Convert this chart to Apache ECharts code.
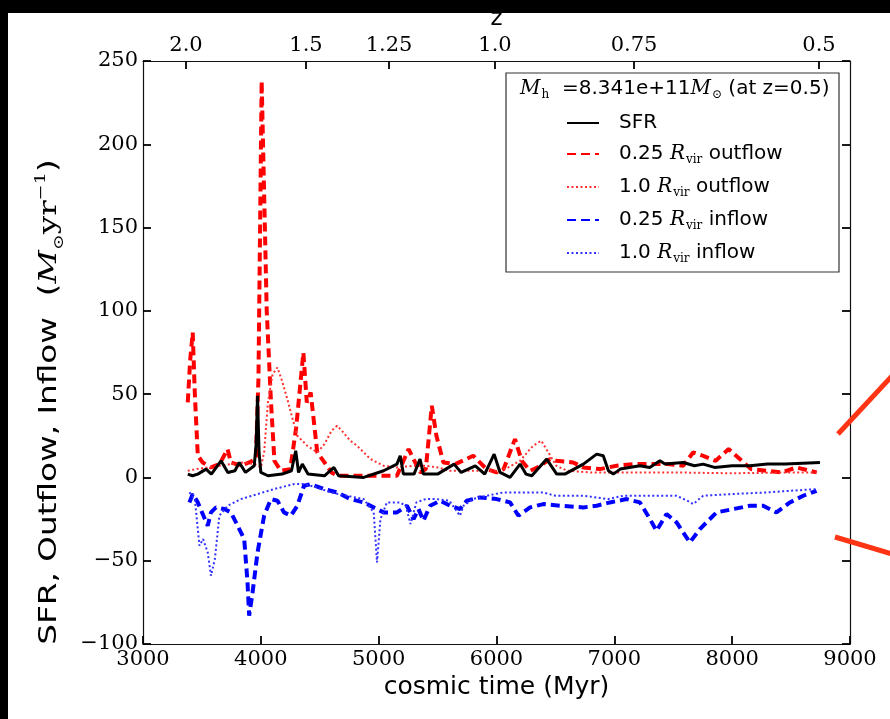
<!DOCTYPE html>
<html>
<head>
<meta charset="utf-8">
<script src="https://cdn.jsdelivr.net/npm/echarts@6/dist/echarts.min.js"></script>
<style>
html,body{margin:0;padding:0;background:#000;}
#chart{width:890px;height:719px;}
</style>
</head>
<body>
<div id="chart"></div>
<script>
// ---- data (cosmic time in Myr, rates in Msun/yr) ----
const sfrT = [3380,3420,3465,3535,3580,3662,3720,3780,3817,3870,3944,3960,3972,3985,4000,4060,4180,4260,4296,4320,4352,4400,4540,4620,4660,4873,5042,5155,5183,5210,5300,5351,5380,5500,5640,5700,5820,5900,5980,6030,6115,6200,6250,6300,6426,6511,6580,6737,6850,6906,6950,6991,7050,7217,7300,7387,7430,7584,7680,7754,7850,8000,8150,8300,8450,8600,8745];
const sfrV = [2,1,2,5,2,10,3,4,9,3,7,20,49,15,3,1,2,4,16,3,8,2,1,6,1,0,4,8,13,2,2,11,2,2,8,3,7,2,14,3,0,8,2,1,11,2,2,8,14,13,4,2,5,7,6,10,8,9,7,8,6,7,7,8,8,8.5,9];

const out25T = [3380,3400,3422,3440,3465,3507,3577,3650,3718,3746,3831,3900,3958,3980,4007,4050,4085,4115,4169,4250,4300,4361,4390,4423,4479,4520,4600,4648,4800,5000,5155,5254,5352,5400,5451,5490,5549,5650,5803,5916,6001,6060,6157,6214,6285,6350,6454,6508,6650,6737,6878,7019,7160,7302,7450,7584,7669,7754,7860,7970,8065,8160,8291,8418,8546,8717];
const out25V = [45,70,87,50,13,9,6,8,17,9,7,9,11,60,238,100,47,10,4,5,30,75,45,51,15,11,3,1,1,1,1,17,3,5,43,25,9,8,13,5,3,5,23,10,4,6,11,10,9,6,5,7,8,8,8,7,15,13,10,17,11,5,4,3,6,3];

const out100T = [3380,3450,3550,3650,3750,3850,3950,4000,4028,4060,4100,4141,4180,4225,4270,4310,4394,4479,4540,4600,4648,4700,4760,4817,4930,5042,5150,5296,5400,5500,5605,5800,6000,6100,6200,6310,6380,6440,6508,6600,6800,7000,7500,8000,8500,8717];
const out100V = [4,5,6,7,8,9,8,6,15,45,62,66,58,47,35,25,19,15,20,28,31,27,22,19,11,7,6,7,7,6,4,4,4,6,10,19,22,15,7,4,3,3,3,2.5,3,3];

const in25T = [3394,3422,3465,3549,3577,3620,3690,3746,3803,3859,3887,3901,3930,3972,4028,4085,4141,4197,4254,4310,4366,4423,4535,4648,4760,4873,5042,5155,5240,5296,5338,5380,5436,5521,5606,5690,5747,5859,6001,6115,6186,6285,6398,6540,6737,6850,6963,7104,7217,7302,7358,7443,7528,7641,7726,7867,8009,8150,8263,8376,8490,8603,8716];
const in25V = [-15,-10,-15,-29,-21,-18,-19,-21,-29,-37,-63,-83,-69,-45,-23,-13,-14,-21,-23,-17,-5,-4,-7,-9,-13,-15,-21,-21,-17,-25,-19,-26,-17,-14,-17,-19,-14,-12,-13,-15,-23,-18,-16,-17,-18,-17,-15,-13,-15,-25,-32,-22,-27,-39,-31,-21,-19,-17,-17,-21,-15,-11,-8];

const in100T = [3394,3440,3479,3510,3549,3577,3610,3648,3718,3831,3972,4113,4282,4366,4479,4592,4732,4873,4958,4986,5015,5070,5180,5230,5270,5320,5400,5493,5600,5690,5720,5800,5916,6058,6200,6398,6500,6737,6950,7076,7300,7528,7620,7670,7720,7754,8000,8291,8500,8716];
const in100V = [-9,-13,-41,-37,-45,-59,-49,-23,-17,-13,-10,-7,-4,-4,-6,-9,-11,-13,-21,-51,-25,-15,-15,-17,-28,-15,-13,-13,-14,-23,-17,-13,-11,-9,-9,-9,-11,-11,-13,-11,-11,-11,-14,-16,-13,-11,-10,-9,-8,-7];

// top axis: redshift ticks placed at the corresponding cosmic time
const zTickTimes = [3365,4383,5088,5987,7167,8737];
const zTickLabels = ['2.0','1.5','1.25','1.0','0.75','0.5'];

const xTicks = {min:3000, max:9000, interval:1000};
const yTicks = {min:-100, max:250, interval:50};

function zip(t, v){ return t.map((x,i)=>[x, v[i]]); }

const chart = echarts.init(document.getElementById('chart'), null, {renderer:'canvas'});
const serif = "'DejaVu Serif', serif";
const sans = "'DejaVu Sans', sans-serif";
const axisLineStyle = {color:'#111', width:1.2};
const tickStyle = {color:'#000', width:1.8};

const richBase = {
  g:{width:15, fontSize:20, lineHeight:24},
  i:{fontFamily:serif, fontStyle:'italic', fontSize:20, color:'#000', lineHeight:24},
  s:{fontFamily:serif, fontSize:12, color:'#000', lineHeight:24, verticalAlign:'bottom', padding:[8,0,0,1]},
  n:{fontFamily:sans, fontSize:20, color:'#000', lineHeight:24}
};
const legendNames = {
  'SFR':'{g| }{n|SFR}',
  'out25':'{g| }{n|0.25 }{i|R}{s|vir}{n| outflow}',
  'out100':'{g| }{n|1.0 }{i|R}{s|vir}{n| outflow}',
  'in25':'{g| }{n|0.25 }{i|R}{s|vir}{n| inflow}',
  'in100':'{g| }{n|1.0 }{i|R}{s|vir}{n| inflow}'
};

function lineSeries(name, t, v, color, type, width){
  return {
    name, type:'line', data: zip(t, v), showSymbol:false, symbol:'none',
    xAxisIndex:0, yAxisIndex:0, smooth:false, animation:false,
    lineStyle:{color, type, width}, itemStyle:{color}
  };
}

const option = {
  backgroundColor:'transparent',
  animation:false,
  grid:{left:143, right:40, top:61, bottom:75, containLabel:false},
  xAxis:[
    {type:'value', min:xTicks.min, max:xTicks.max, interval:xTicks.interval, position:'bottom',
     axisLine:{show:true, onZero:false, lineStyle:axisLineStyle},
     axisTick:{show:true, inside:true, length:8, lineStyle:tickStyle},
     splitLine:{show:false},
     axisLabel:{fontFamily:serif, fontSize:21, color:'#000', margin:5, formatter:(v)=>String(v)},
     name:'cosmic time (Myr)', nameLocation:'middle', nameGap:31,
     nameTextStyle:{fontFamily:sans, fontSize:25, color:'#000'}},
    {type:'value', min:xTicks.min, max:xTicks.max, position:'top',
     axisLine:{show:true, onZero:false, lineStyle:axisLineStyle},
     axisTick:{show:true, inside:true, length:8, lineStyle:tickStyle, customValues:zTickTimes},
     splitLine:{show:false},
     axisLabel:{fontFamily:serif, fontSize:21, color:'#000', margin:5, customValues:zTickTimes,
       formatter:(v)=>{ const i = zTickTimes.indexOf(v); return i>=0 ? zTickLabels[i] : ''; }},
     name:'z', nameLocation:'middle', nameGap:28,
     nameTextStyle:{fontFamily:sans, fontSize:23, color:'#000'}}
  ],
  yAxis:[
    {type:'value', min:yTicks.min, max:yTicks.max, interval:yTicks.interval, position:'left',
     axisLine:{show:true, onZero:false, lineStyle:axisLineStyle},
     axisTick:{show:true, inside:true, length:8, lineStyle:tickStyle},
     splitLine:{show:false},
     axisLabel:{fontFamily:serif, fontSize:21, color:'#000', margin:5,
       formatter:(v)=> v<0 ? '\u2212'+Math.abs(v) : String(v)}},
    {type:'value', min:yTicks.min, max:yTicks.max, interval:yTicks.interval, position:'right',
     axisLine:{show:true, onZero:false, lineStyle:axisLineStyle},
     axisTick:{show:true, inside:true, length:8, lineStyle:tickStyle},
     splitLine:{show:false}, axisLabel:{show:false}}
  ],
  legend:{
    orient:'vertical', left:566, top:113, padding:0,
    itemWidth:32, itemHeight:14, itemGap:11, itemTextGap:5,
    data:['SFR','out25','out100','in25','in100'],
    formatter:(name)=>legendNames[name],
    itemStyle:{opacity:0, borderWidth:0},
    textStyle:{fontFamily:sans, fontSize:20, color:'#000', rich:richBase},
    selectedMode:false
  },
  series:[
    lineSeries('out25', out25T, out25V, '#ff0000', [9,5], 4),
    lineSeries('out100', out100T, out100V, '#ff3030', [2,2.5], 2),
    lineSeries('in25', in25T, in25V, '#0000ff', [9,5], 4),
    lineSeries('in100', in100T, in100V, '#3030ff', [2,2.5], 2),
    lineSeries('SFR', sfrT, sfrV, '#000000', 'solid', 3)
  ],
  graphic:[
    {type:'rect', z:-10, silent:true, shape:{x:8, y:13, width:882, height:706}, style:{fill:'#fff'}},
    {type:'rect', z:5, silent:true, shape:{x:506, y:73, width:333, height:199}, style:{fill:'rgba(255,255,255,0)', stroke:'#333', lineWidth:1.2}},
    {type:'text', z:6, silent:true, x:520, y:77,
     style:{text:'{i|M}{s|h}{n|  =8.341e+11}{i|M}{s|\u2299}{n| (at z=0.5)}', rich:richBase, fill:'#000'}},
    {type:'text', z:6, silent:true, x:50, y:402, rotation:Math.PI/2, scaleX:1.36, scaleY:1,
     style:{text:'{n|SFR, Outflow, Inflow  (}{i|M}{s|\u2299}{r|yr}{p|\u22121}{n|)}',
       align:'center', verticalAlign:'middle',
       rich:{
         n:{fontFamily:sans, fontSize:24, color:'#000', lineHeight:32},
         i:{fontFamily:serif, fontStyle:'italic', fontSize:24, color:'#000', lineHeight:32},
         s:{fontFamily:serif, fontSize:14, color:'#000', lineHeight:32, verticalAlign:'bottom', padding:[11,0,0,0]},
         r:{fontFamily:serif, fontSize:24, color:'#000', lineHeight:32},
         p:{fontFamily:serif, fontSize:14, color:'#000', lineHeight:32, verticalAlign:'top', padding:[0,0,11,0]}
       }}},
    {type:'line', z:7, silent:true, shape:{x1:838, y1:434, x2:892, y2:376}, style:{stroke:'#ff3414', lineWidth:5}},
    {type:'line', z:7, silent:true, shape:{x1:835, y1:537, x2:892, y2:554}, style:{stroke:'#ff3414', lineWidth:5}}
  ]
};
chart.setOption(option);
</script>
</body>
</html>
